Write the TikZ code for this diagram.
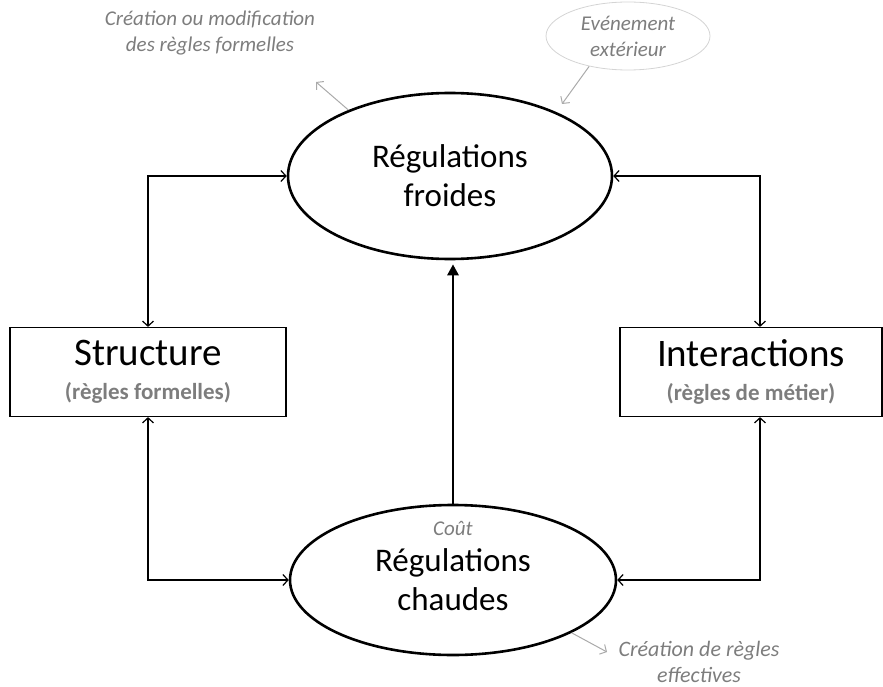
\documentclass[tikz,border=0pt]{standalone}
\usepackage{fontspec}
\setmainfont{Carlito}
\usetikzlibrary{arrows.meta}
\usetikzlibrary{positioning}
\usetikzlibrary{shapes.geometric}
\definecolor{gris}{RGB}{125,125,125}
\definecolor{grisclair}{RGB}{170,170,170}
\definecolor{grisbulle}{RGB}{212,212,212}
\newcommand{\regle}[1]{{\color{gris}\bfseries\fontsize{23}{25}\selectfont #1}}

\begin{document}
\begin{tikzpicture}[x=1pt,y=-1pt,<->,>={Straight Barb[length=5pt,width=11pt]},
		line width=1.2pt]
		\tikzstyle{regul}=[ellipse,draw,line width=2.6pt,minimum width=324pt,minimum height=166pt,inner sep=0pt,align=center,font=\fontsize{33}{39}\selectfont]
		\tikzstyle{cadre}=[rectangle,draw,line width=1.2pt,minimum height=89pt,inner sep=0pt,align=center,font=\fontsize{39}{34}\selectfont]
		\tikzstyle{note}=[align=center,text=gris,font=\itshape\fontsize{21}{26}\selectfont]
		\tikzstyle{renvoi}=[->,draw=grisclair,line width=1pt]
		\useasboundingbox (0,0) rectangle (883,687);
		
		\node[regul]                       (froide)  at (450,176)  {Régulations\\froides};
		\node[regul,minimum width=326pt,minimum height=150pt] (chaude)  at (453,580)  {Régulations\\chaudes};
		\node[cadre,minimum width=276pt]   (struct)  at (148,372)  {Structure\\\regle{(règles formelles)}};
		\node[cadre,minimum width=262pt]   (inter)   at (751,372)  {Interactions\\\regle{(règles de métier)}};
		
		\node[note]                        (crea)    at (210,33)   {Création ou modification\\des règles formelles};
		\node[note,ellipse,draw=grisbulle,line width=0.8pt,minimum width=164pt,minimum height=68pt,inner sep=0pt] (evt) at (628,36) {Evénement\\extérieur};
		\node[note,inner sep=1pt]          (cout)    at (453,528)  {Coût};
		\node[note,font=\itshape\fontsize{22}{26}\selectfont] (effect) at (699,662) {Création de règles\\effectives};
		
		\coordinate (creaPt)   at (316,82);
		\coordinate (evtPt)    at (562,104);
		\coordinate (effectPt) at (607,652);
		
		% liens entre les regulations et les cadres
		\draw (froide.west) -| (struct.north);
		\draw (chaude.west) -| (struct.south);
		\draw (froide.east) -| ([xshift=9pt]inter.north);
		\draw (chaude.east) -| ([xshift=9pt]inter.south);
		\draw[-{Triangle[length=11pt,width=11pt]},line width=2.8pt,shorten >=4pt] (chaude.north) -- (chaude.north |- froide.south);
		
		% renvois
		\draw[renvoi] (froide.147) -- (creaPt);
		\draw[renvoi] (evt.218) -- (evtPt);
		\draw[renvoi] (chaude.-24) -- (effectPt);
		
\end{tikzpicture}
\end{document}
